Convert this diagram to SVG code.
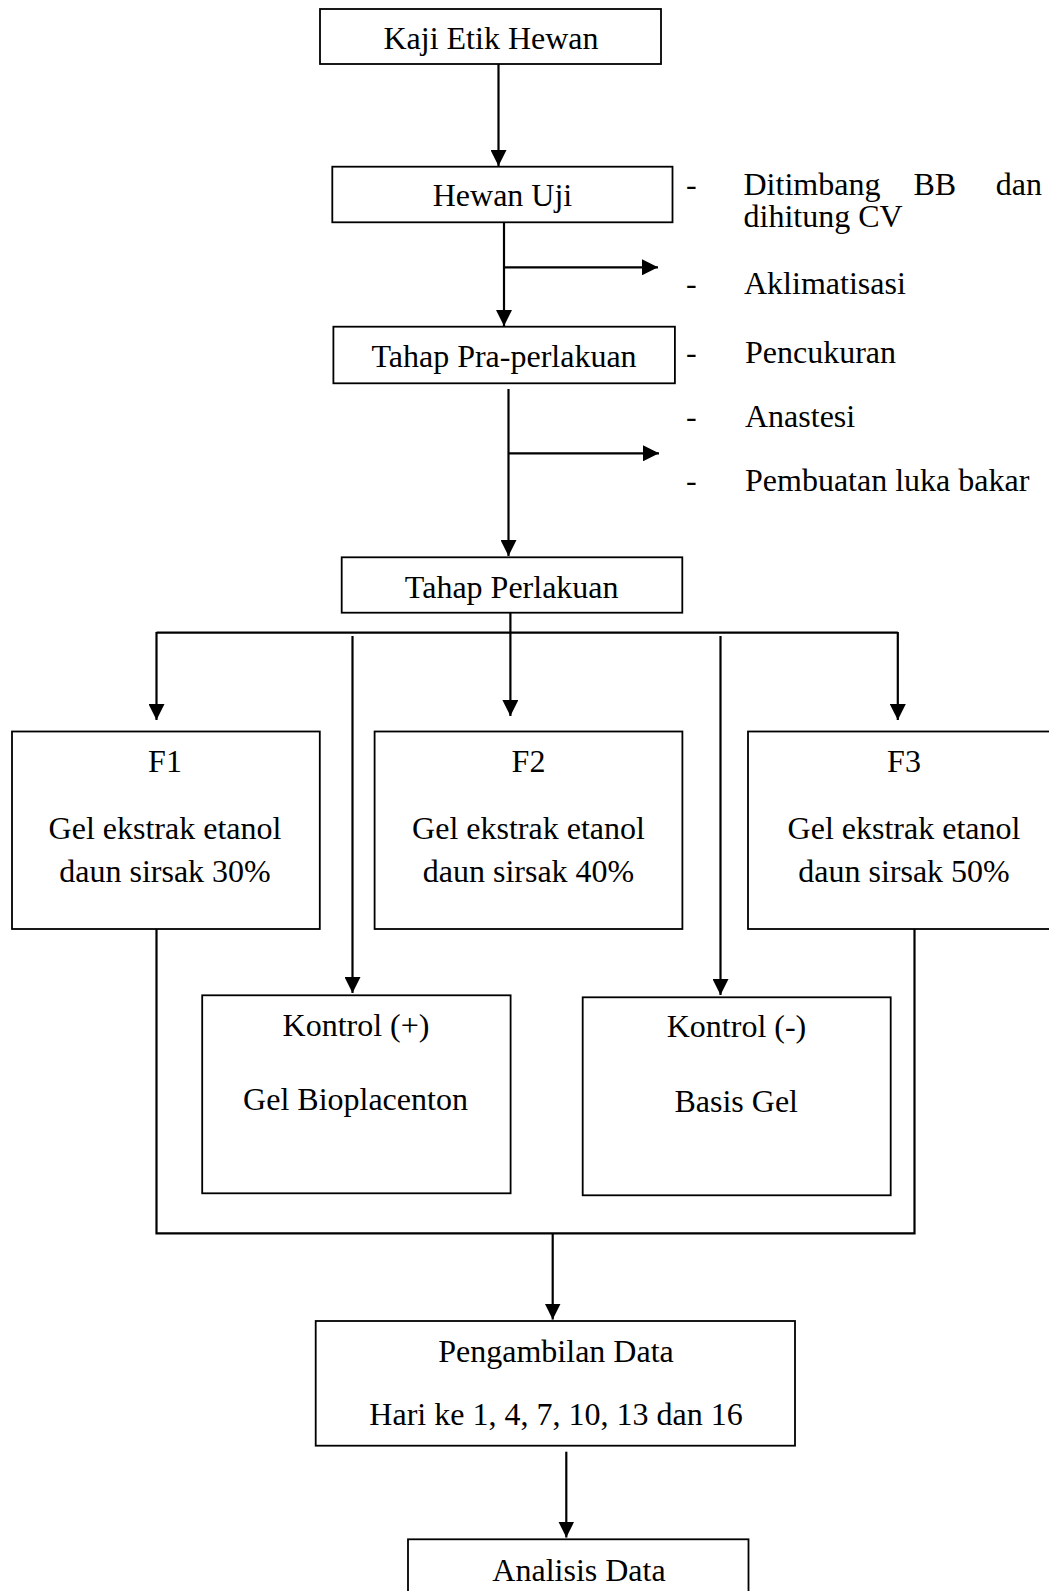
<svg xmlns="http://www.w3.org/2000/svg" width="1049" height="1591" viewBox="0 0 1049 1591">
<style>
.box{fill:#fff;stroke:#000;stroke-width:1.8}
.ln{fill:none;stroke:#000;stroke-width:2.2}
text{font-family:"Liberation Serif","Times New Roman",serif;font-size:32px;fill:#000}
.c{text-anchor:middle}
</style>
<defs>
<marker id="ah" markerUnits="userSpaceOnUse" markerWidth="16" markerHeight="16" viewBox="0 0 16 16" refX="16" refY="8" orient="auto">
<path d="M0,0 L16,8 L0,16 Z" fill="#000"/>
</marker>
</defs>
<rect width="1049" height="1591" fill="#fff"/>
<g id="connectors">
<line class="ln" x1="498.5" y1="64" x2="498.5" y2="166" marker-end="url(#ah)"/>
<line class="ln" x1="504" y1="222.7" x2="504" y2="326" marker-end="url(#ah)"/>
<line class="ln" x1="504" y1="267.3" x2="658" y2="267.3" marker-end="url(#ah)"/>
<line class="ln" x1="508.5" y1="389" x2="508.5" y2="556" marker-end="url(#ah)"/>
<line class="ln" x1="508.5" y1="453.3" x2="659" y2="453.3" marker-end="url(#ah)"/>
<line class="ln" x1="510.4" y1="613" x2="510.4" y2="632.7"/>
<line class="ln" x1="156.5" y1="632.7" x2="897.8" y2="632.7"/>
<line class="ln" x1="156.5" y1="632" x2="156.5" y2="720" marker-end="url(#ah)"/>
<line class="ln" x1="510.4" y1="632" x2="510.4" y2="716" marker-end="url(#ah)"/>
<line class="ln" x1="897.8" y1="632" x2="897.8" y2="720" marker-end="url(#ah)"/>
<line class="ln" x1="352.5" y1="636" x2="352.5" y2="993" marker-end="url(#ah)"/>
<line class="ln" x1="720.5" y1="636" x2="720.5" y2="995" marker-end="url(#ah)"/>
<polyline class="ln" points="156.5,929 156.5,1233.3 914.5,1233.3 914.5,929"/>
<line class="ln" x1="552.7" y1="1233.3" x2="552.7" y2="1319.5" marker-end="url(#ah)"/>
<line class="ln" x1="566.3" y1="1451.7" x2="566.3" y2="1537.5" marker-end="url(#ah)"/>
</g>
<g id="kaji">
<rect class="box" x="320" y="9" width="341" height="55"/>
<text class="c" x="491" y="49">Kaji Etik Hewan</text>
</g>
<g id="hewan">
<rect class="box" x="332.3" y="166.7" width="340.2" height="55.6"/>
<text class="c" x="502.5" y="206">Hewan Uji</text>
</g>
<g id="notes1">
<text x="686" y="195">-</text>
<text x="743.5" y="195">Ditimbang</text>
<text x="913.5" y="195">BB</text>
<text x="1042" y="195" text-anchor="end">dan</text>
<text x="743.5" y="226.7">dihitung CV</text>
<text x="686" y="294">-</text>
<text x="744" y="294">Aklimatisasi</text>
</g>
<g id="pra">
<rect class="box" x="333.4" y="326.7" width="341.5" height="56.6"/>
<text class="c" x="504" y="366.7">Tahap Pra-perlakuan</text>
</g>
<g id="notes2">
<text x="686" y="363.3">-</text>
<text x="745" y="363.3">Pencukuran</text>
<text x="686" y="427.3">-</text>
<text x="745" y="427.3">Anastesi</text>
<text x="686" y="490.5">-</text>
<text x="745" y="490.5">Pembuatan luka bakar</text>
</g>
<g id="perlakuan">
<rect class="box" x="341.7" y="557.3" width="340.6" height="55.4"/>
<text class="c" x="511.7" y="598.3">Tahap Perlakuan</text>
</g>
<g id="f1">
<rect class="box" x="12" y="731.5" width="307.8" height="197.5"/>
<text class="c" x="165" y="771.7">F1</text>
<text class="c" x="165" y="839.3">Gel ekstrak etanol</text>
<text class="c" x="165" y="881.7">daun sirsak 30%</text>
</g>
<g id="f2">
<rect class="box" x="374.6" y="731.5" width="307.8" height="197.5"/>
<text class="c" x="528.5" y="771.7">F2</text>
<text class="c" x="528.5" y="839.3">Gel ekstrak etanol</text>
<text class="c" x="528.5" y="881.7">daun sirsak 40%</text>
</g>
<g id="f3">
<rect class="box" x="748" y="731.5" width="310" height="197.5"/>
<text class="c" x="904" y="771.7">F3</text>
<text class="c" x="904" y="839.3">Gel ekstrak etanol</text>
<text class="c" x="904" y="881.7">daun sirsak 50%</text>
</g>
<g id="kontrol-pos">
<rect class="box" x="202.2" y="995.3" width="308.4" height="198"/>
<text class="c" x="356" y="1036">Kontrol (+)</text>
<text class="c" x="355.5" y="1110">Gel Bioplacenton</text>
</g>
<g id="kontrol-neg">
<rect class="box" x="582.7" y="997.3" width="308" height="198"/>
<text class="c" x="736.5" y="1037.3">Kontrol (-)</text>
<text class="c" x="736.2" y="1111.7">Basis Gel</text>
</g>
<g id="pengambilan">
<rect class="box" x="315.7" y="1321" width="479.3" height="124.7"/>
<text class="c" x="556" y="1361.7">Pengambilan Data</text>
<text class="c" x="556" y="1425">Hari ke 1, 4, 7, 10, 13 dan 16</text>
</g>
<g id="analisis">
<rect class="box" x="408" y="1539.3" width="340.5" height="80"/>
<text class="c" x="579" y="1580.5">Analisis Data</text>
</g>
</svg>
